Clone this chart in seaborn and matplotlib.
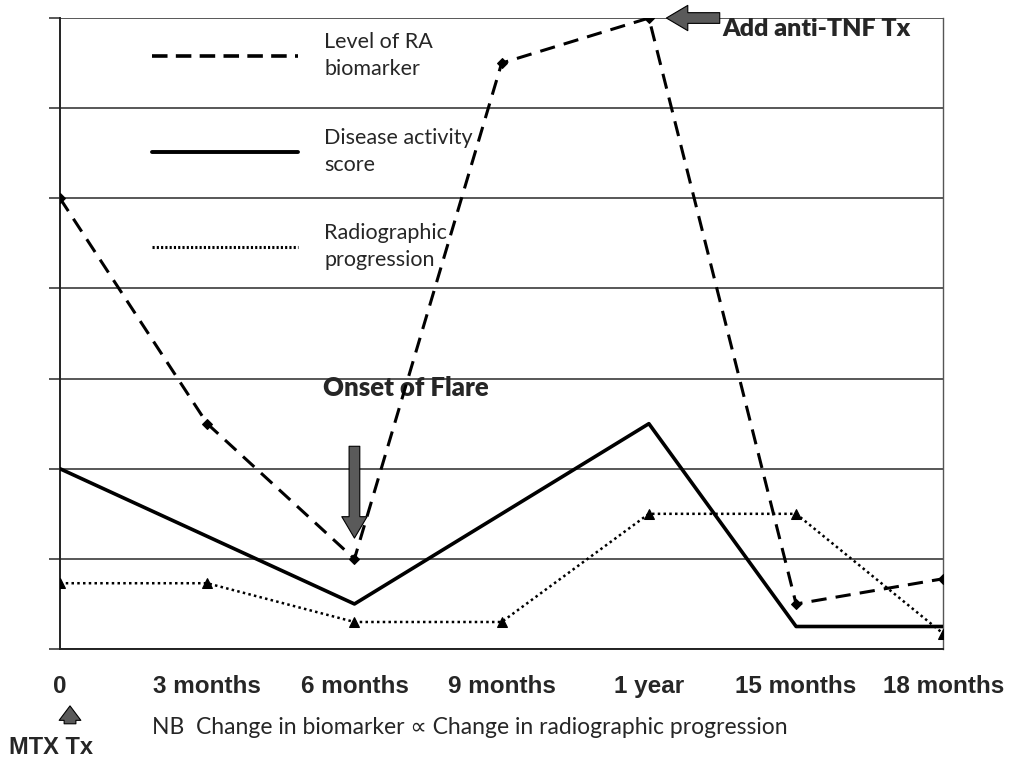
import numpy as np
import pandas as pd
import matplotlib
matplotlib.use("Agg")
import matplotlib.pyplot as plt
import seaborn as sns
from matplotlib.lines import Line2D

# time points along the x axis
time_labels = ["0", "3 months", "6 months", "9 months", "1 year", "15 months", "18 months"]
time_pos = [0, 1, 2, 3, 4, 5, 6]

# values (grid units, 0 at bottom axis, 7 at top)
biomarker = [5.0, 2.5, 1.0, 6.5, 7.0, 0.5, 0.78]
disease_activity = [2.0, np.nan, 0.5, np.nan, 2.5, 0.25, 0.25]
radiographic = [0.73, 0.73, 0.3, 0.3, 1.5, 1.5, 0.17]

sns.set_style("white")
plt.rcParams["font.family"] = ["Lato", "DejaVu Sans"]

df = pd.DataFrame({"t": time_pos, "bio": biomarker, "das": disease_activity, "rad": radiographic})

fig = plt.figure(figsize=(10.1, 7.67), dpi=100)
ax = fig.add_axes([0.0594, 0.1538, 0.8746, 0.8227])

# horizontal grid
ax.set_yticks(range(0, 8))
ax.yaxis.grid(True, color="#2a2a2a", linewidth=1.1)
ax.set_axisbelow(True)

# the three series
sns.lineplot(data=df.dropna(subset=["bio"]), x="t", y="bio", ax=ax, color="black",
             linewidth=2.2, linestyle=(0, (5, 3)), marker="D", markersize=5,
             markeredgecolor="black", zorder=4)
sns.lineplot(data=df.dropna(subset=["das"]), x="t", y="das", ax=ax, color="black",
             linewidth=2.6, zorder=3)
sns.lineplot(data=df.dropna(subset=["rad"]), x="t", y="rad", ax=ax, color="black",
             linewidth=1.8, linestyle=(0, (1, 1.3)), marker="^", markersize=6.5,
             markeredgecolor="black", zorder=3)

ax.set_xlim(0, 6)
ax.set_ylim(0, 7)
ax.set_xticks(time_pos)
ax.set_xticklabels(time_labels, fontsize=17.5, fontweight="bold", family="Liberation Sans")
ax.set_yticklabels([])
ax.set_xlabel("")
ax.set_ylabel("")
ax.tick_params(axis="x", direction="out", length=5, width=1.2, color="#222", pad=14)
ax.tick_params(axis="y", direction="out", length=8, width=1.1, color="#2a2a2a", left=True)

for side in ["left", "bottom"]:
    ax.spines[side].set_color("#222")
    ax.spines[side].set_linewidth(1.4)
ax.spines["right"].set_color("#555")
ax.spines["right"].set_linewidth(1.0)
ax.spines["top"].set_visible(False)

# legend
handles = [
    Line2D([], [], color="black", linewidth=2.6, linestyle=(0, (4.3, 2.3))),
    Line2D([], [], color="black", linewidth=2.8),
    Line2D([], [], color="black", linewidth=2.2, linestyle=(0, (0.7, 0.7))),
]
labels = ["Level of RA\nbiomarker", "Disease activity\nscore", "Radiographic\nprogression"]
leg = ax.legend(handles, labels, loc="upper left", bbox_to_anchor=(0.104, 0.978), frameon=False,
                fontsize=15.5, handlelength=6.8, handletextpad=1.2, labelspacing=2.25,
                borderpad=0, borderaxespad=0)
for t in leg.get_texts():
    t.set_linespacing(1.45)

# annotations
arrow_kw = dict(arrowstyle="simple,head_width=1.3,head_length=1.1,tail_width=0.55",
                fc="#5a5a5a", ec="black", lw=0.8, mutation_scale=14)
ax.annotate("", xy=(2.0, 1.2), xytext=(2.0, 2.28), arrowprops=arrow_kw, zorder=5)
ax.text(2.35, 2.9, "Onset of Flare", fontsize=18.5, fontweight="heavy", ha="center", va="center")

ax.annotate("", xy=(4.1, 7.0), xytext=(4.5, 7.0), arrowprops=arrow_kw,
            annotation_clip=False, zorder=5)
ax.text(4.5, 6.88, "Add anti-TNF Tx", fontsize=18, fontweight="heavy", ha="left",
        va="center", clip_on=False)

ax.annotate("", xy=(0.068, -0.6), xytext=(0.068, -0.86), arrowprops=dict(
    arrowstyle="simple,head_width=1.2,head_length=0.8,tail_width=0.65",
    fc="#5a5a5a", ec="black", lw=0.8, mutation_scale=13), annotation_clip=False)
fig.text(0.0505, 1 - 748 / 767, "MTX Tx", fontsize=17, fontweight="bold",
         family="Liberation Sans", ha="center", va="center")
fig.text(152 / 1010, 1 - 727 / 767,
         "NB  Change in biomarker \u221d Change in radiographic progression",
         fontsize=16.5, ha="left", va="center")

fig.savefig("out.png", dpi=100)
